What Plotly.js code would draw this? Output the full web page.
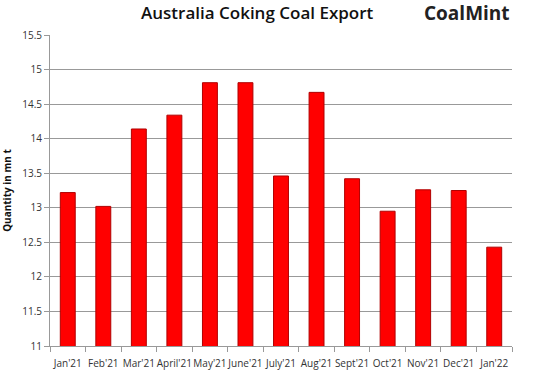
<!DOCTYPE html>
<html>
<head>
<meta charset="utf-8">
<script src="https://cdn.plot.ly/plotly-3.0.1.min.js"></script>
<style>html,body{margin:0;padding:0;background:#fff;}#chart{width:544px;height:377px;}</style>
</head>
<body>
<div id="chart"></div>
<script>
const months = ["Jan'21","Feb'21","Mar'21","April'21","May'21","June'21","July'21","Aug'21","Sept'21","Oct'21","Nov'21","Dec'21","Jan'22"];
const exportsMnT = [13.22, 13.02, 14.14, 14.34, 14.81, 14.81, 13.46, 14.67, 13.42, 12.95, 13.26, 13.25, 12.43];
const yTicks = [11, 11.5, 12, 12.5, 13, 13.5, 14, 14.5, 15, 15.5];

const trace = {
  type: 'bar',
  x: months,
  y: exportsMnT,
  base: 0,
  width: 0.42,
  marker: {color: '#ff0000', line: {color: '#b00000', width: 1}},
  hoverinfo: 'x+y'
};

const layout = {
  width: 544, height: 377,
  margin: {l: 50, r: 32, t: 35, b: 31},
  paper_bgcolor: '#ffffff',
  plot_bgcolor: '#ffffff',
  showlegend: false,
  font: {family: 'Open Sans, sans-serif', color: '#333'},
  xaxis: {
    type: 'category',
    tickson: 'boundaries',
    tickangle: 0,
    ticks: 'outside', ticklen: 5, tickcolor: '#999',
    ticklabelstandoff: 8,
    showline: true, linecolor: '#999', linewidth: 1,
    showgrid: false,
    tickfont: {size: 10, color: '#333', family: 'Liberation Sans Narrow, Open Sans, sans-serif'},
    fixedrange: true
  },
  yaxis: {
    range: [11, 15.5],
    tickvals: yTicks,
    ticktext: yTicks.map(String),
    ticks: 'outside', ticklen: 5, tickcolor: '#999',
    showline: true, linecolor: '#999', linewidth: 1,
    showgrid: true, gridcolor: '#999', gridwidth: 1,
    zeroline: false,
    tickfont: {size: 10, color: '#333', family: 'Liberation Sans Narrow, Open Sans, sans-serif'},
    title: {text: 'Quantity in mn t', font: {size: 10, color: '#111', family: 'Open Sans, sans-serif', weight: 'bold'}, standoff: 8}
  },
  annotations: [
    {text: 'Australia Coking Coal Export', xref: 'paper', yref: 'paper', x: 0.45, y: 1, yshift: 23, xanchor: 'center', yanchor: 'middle', showarrow: false, font: {size: 17, color: '#111', family: 'Open Sans, sans-serif', weight: 600}},
    {text: 'CoalMint', xref: 'paper', yref: 'paper', x: 1.0, y: 1, yshift: 22, xanchor: 'right', yanchor: 'middle', showarrow: false, font: {size: 19, color: '#222', family: 'Open Sans, sans-serif', weight: 'bold'}}
  ]
};

Plotly.newPlot('chart', [trace], layout, {displayModeBar: false, staticPlot: true});
</script>
</body>
</html>
